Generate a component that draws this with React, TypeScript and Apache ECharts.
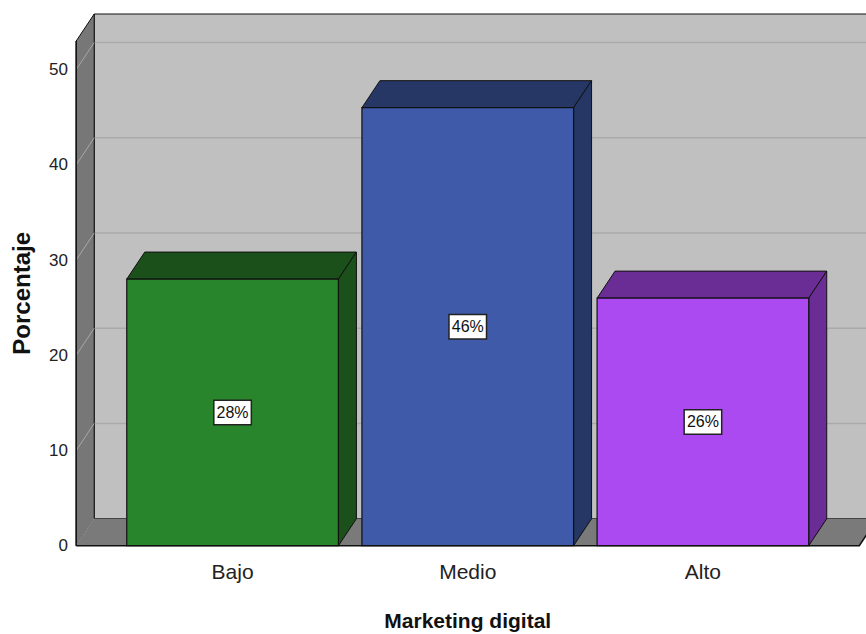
import React, { useEffect, useRef } from "react";
import * as echarts from "echarts";

const categories = ["Bajo", "Medio", "Alto"];
const values = [28, 46, 26];
const percentLabels = ["28%", "46%", "26%"];
const yTicks = [0, 10, 20, 30, 40, 50];
const frontColors = ["#29852b", "#3e5aa8", "#aa4af0"];
const darkColors = ["#1b501b", "#263766", "#6a2c95"];

const DX = 18;
const DY = 27;
const Y_MAX = 53;

export default function App() {
  const ref = useRef<HTMLDivElement>(null);
  useEffect(() => {
    if (!ref.current) return;
    const chart = echarts.init(ref.current, null, { renderer: "svg", width: 866, height: 634 });
    const option: any = {
      animation: false,
      backgroundColor: "#ffffff",
      grid: {
        left: 115,
        right: 45.5,
        top: 41,
        bottom: 88.3,
        containLabel: false,
        outerBoundsMode: "none",
      },
      xAxis: {
        type: "category",
        data: categories,
        axisLine: { show: false },
        axisTick: { show: false },
        axisLabel: {
          color: "#222",
          fontSize: 21,
          fontFamily: "Liberation Sans, Arial, sans-serif",
          margin: 15,
        },
        name: "Marketing digital",
        nameLocation: "middle",
        nameGap: 64,
        nameTextStyle: {
          color: "#111",
          fontSize: 21,
          fontWeight: "bold",
          fontFamily: "Liberation Sans, Arial, sans-serif",
        },
      },
      yAxis: {
        type: "value",
        min: 0,
        max: Y_MAX,
        interval: 10,
        offset: 39,
        axisLine: { show: false },
        axisTick: { show: false },
        splitLine: { show: false },
        axisLabel: {
          color: "#222",
          fontSize: 17,
          fontFamily: "Liberation Sans Narrow, Arial Narrow, sans-serif",
          margin: 8,
          showMaxLabel: false,
        },
        name: "Porcentaje",
        nameLocation: "middle",
        nameGap: 43,
        nameRotate: 90,
        nameTextStyle: {
          color: "#111",
          fontSize: 24,
          fontWeight: "bold",
          fontFamily: "Liberation Sans, Arial, sans-serif",
        },
      },
      series: [
        {
          type: "custom",
          clip: false,
          silent: true,
          z: 1,
          data: [[0, 0]],
          renderItem: (params: any, api: any) => {
            const bw = api.size([1, 0])[0];
            const c0 = api.coord([0, 0]);
            const c2 = api.coord([categories.length - 1, 0]);
            const xL = c0[0] - 0.5 * bw - 0.165 * bw;
            const xR = c2[0] + 0.5 * bw + 0.165 * bw;
            const y0 = c0[1];
            const yTop = api.coord([0, Y_MAX])[1];
            const children: any[] = [];
            children.push({
              type: "rect",
              shape: { x: xL + DX, y: yTop - DY, width: xR - xL, height: y0 - yTop },
              style: { fill: "#c0c0c0", stroke: "#111", lineWidth: 1 },
            });
            yTicks.forEach((t) => {
              if (t === 0) return;
              const yy = api.coord([0, t])[1] - DY;
              children.push({
                type: "line",
                shape: { x1: xL + DX, y1: yy, x2: xR + DX, y2: yy },
                style: { stroke: "#aaaaaa", lineWidth: 1.5 },
              });
            });
            children.push({
              type: "polygon",
              shape: {
                points: [
                  [xL, y0],
                  [xL, yTop],
                  [xL + DX, yTop - DY],
                  [xL + DX, y0 - DY],
                ],
              },
              style: { fill: "#777777", stroke: "#111", lineWidth: 1 },
            });
            yTicks.forEach((t) => {
              const yy = api.coord([0, t])[1];
              children.push({
                type: "line",
                shape: { x1: xL, y1: yy, x2: xL + DX, y2: yy - DY },
                style: { stroke: "#a8a8a8", lineWidth: 1 },
              });
            });
            children.push({
              type: "polygon",
              shape: {
                points: [
                  [xL, y0],
                  [xR, y0],
                  [xR + DX, y0 - DY],
                  [xL + DX, y0 - DY],
                ],
              },
              style: { fill: "#7a7a7a", stroke: null },
            });
            children.push({
              type: "polyline",
              shape: {
                points: [
                  [xL, y0],
                  [xR, y0],
                  [xR + DX, y0 - DY],
                ],
              },
              style: { stroke: "#111", lineWidth: 1.5, fill: null },
            });
            children.push({
              type: "line",
              shape: { x1: xL, y1: y0, x2: xL, y2: yTop },
              style: { stroke: "#111", lineWidth: 1.5 },
            });
            return { type: "group", children };
          },
        },
        {
          type: "custom",
          clip: false,
          z: 2,
          data: values.map((v, i) => [i, v]),
          renderItem: (params: any, api: any) => {
            const i = api.value(0);
            const v = api.value(1);
            const bw = api.size([1, 0])[0];
            const w = bw * 0.9;
            const top = api.coord([i, v]);
            const bottom = api.coord([i, 0]);
            const l = top[0] - w / 2;
            const r = top[0] + w / 2;
            const yv = top[1];
            const y0 = bottom[1];
            const stroke = "#111";
            return {
              type: "group",
              children: [
                {
                  type: "polygon",
                  shape: {
                    points: [
                      [l, yv],
                      [r, yv],
                      [r + DX, yv - DY],
                      [l + DX, yv - DY],
                    ],
                  },
                  style: { fill: darkColors[i], stroke, lineWidth: 1 },
                },
                {
                  type: "polygon",
                  shape: {
                    points: [
                      [r, yv],
                      [r + DX, yv - DY],
                      [r + DX, y0 - DY],
                      [r, y0],
                    ],
                  },
                  style: { fill: darkColors[i], stroke, lineWidth: 1 },
                },
                {
                  type: "rect",
                  shape: { x: l, y: yv, width: w, height: y0 - yv },
                  style: { fill: frontColors[i], stroke, lineWidth: 1.2 },
                  textContent: {
                    style: {
                      text: percentLabels[i],
                      fill: "#111",
                      fontSize: 16,
                      fontFamily: "Liberation Sans Narrow, Arial Narrow, sans-serif",
                      backgroundColor: "#ffffff",
                      borderColor: "#222",
                      borderWidth: 1.5,
                      padding: [4, 2, 3, 2],
                    },
                  },
                  textConfig: { position: "inside" },
                },
              ],
            };
          },
        },
      ],
    };
    chart.setOption(option);
    return () => chart.dispose();
  }, []);
  return (
    <div
      ref={ref}
      style={{ position: "absolute", left: 0, top: 0, width: 866, height: 634 }}
    />
  );
}
